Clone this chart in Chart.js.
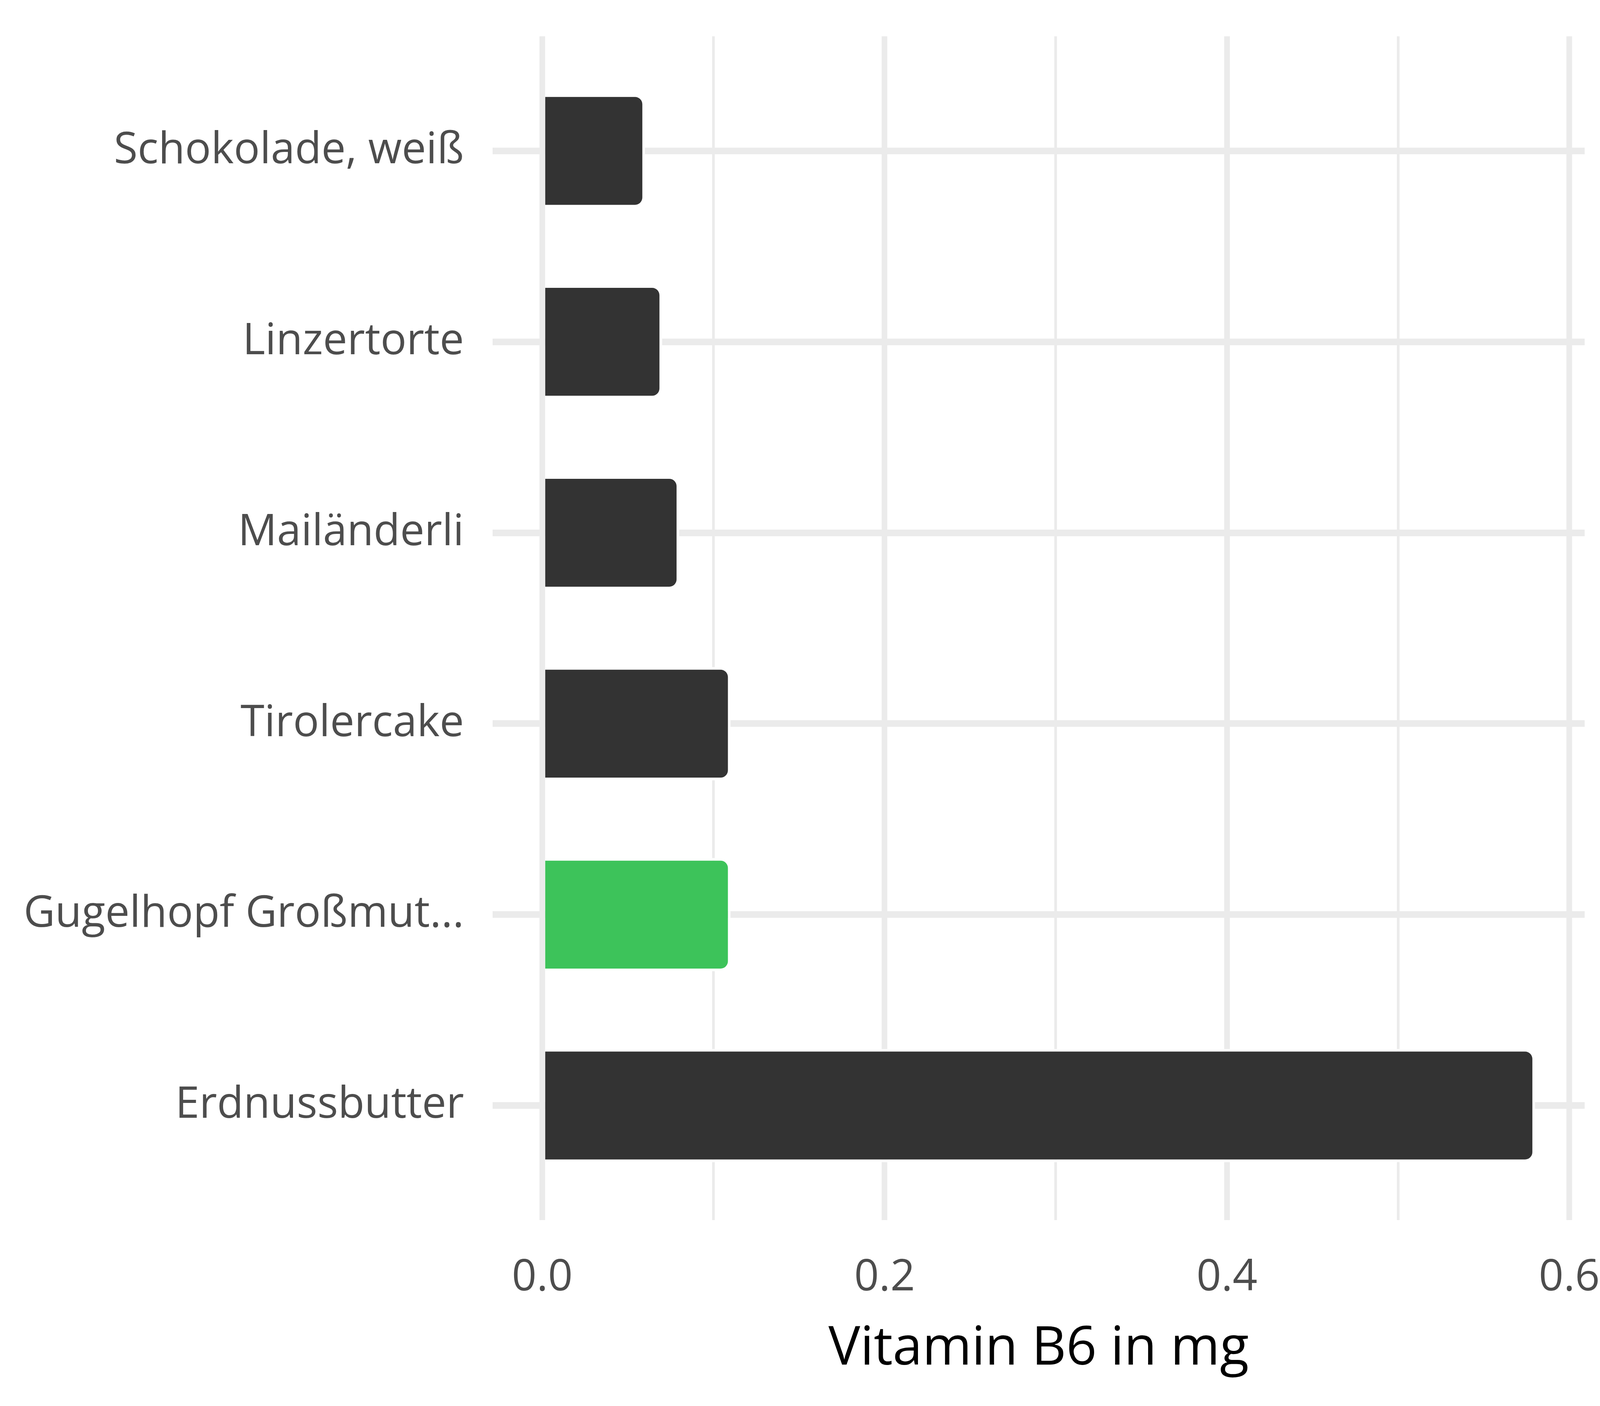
<!DOCTYPE html>
<html>
<head>
<meta charset="utf-8">
<script src="https://cdn.jsdelivr.net/npm/chart.js@4/dist/chart.umd.min.js"></script>
<style>
  html, body { margin: 0; padding: 0; background: #ffffff; overflow: hidden; }
  canvas { display: block; }
</style>
</head>
<body>
<canvas id="grafico"></canvas>
<script>
const lebensmittel = ["Schokolade, weiß", "Linzertorte", "Mailänderli", "Tirolercake", "Gugelhopf Großmut...", "Erdnussbutter"];
const vitaminB6 = [0.06, 0.07, 0.08, 0.11, 0.11, 0.58];
const balkenFarben = ["#333333", "#333333", "#333333", "#333333", "#3dc35a", "#333333"];
const xTicks = [0, 0.1, 0.2, 0.3, 0.4, 0.5, 0.6];
const achsenTitel = "Vitamin B6 in mg";

// layout was measured on a 4800x3600 picture, scale it to the real window
const W = window.innerWidth;
const H = window.innerHeight;
const sx = W / 4800;
const sy = H / 3600;
const sf = Math.min(sx, sy);

const schrift = "'Open Sans', 'Noto Sans', sans-serif";
const gitter = "#ebebeb";
const istMajor = (v) => Math.round(v * 10) % 2 === 0;

const canvas = document.getElementById("grafico");
canvas.width = W;
canvas.height = H;

new Chart(canvas, {
  type: "bar",
  data: {
    datasets: [
      {
        label: achsenTitel,
        data: vitaminB6.map((v, i) => ({ x: v, y: i })),
        backgroundColor: balkenFarben,
        borderColor: "#ffffff",
        borderWidth: 8 * sf,
        borderSkipped: "start",
        borderRadius: 30 * sf,
        categoryPercentage: 1,
        barPercentage: 0.593,
      },
    ],
  },
  options: {
    indexAxis: "y",
    responsive: false,
    animation: false,
    devicePixelRatio: 1,
    layout: { padding: { top: 93 * sy, right: 46 * sx, bottom: 0, left: 0 } },
    plugins: { legend: { display: false }, tooltip: { enabled: false } },
    scales: {
      x: {
        type: "linear",
        min: -0.029,
        max: 0.609,
        afterBuildTicks: (axis) => {
          axis.ticks = xTicks.map((v) => ({ value: v }));
        },
        afterFit: (axis) => {
          axis.height = 476 * sy;
          axis.paddingLeft = 0;
          axis.paddingRight = 0;
        },
        grid: {
          color: gitter,
          lineWidth: (ctx) => (ctx.tick && istMajor(ctx.tick.value) ? 17 * sx : 8 * sx),
          drawTicks: false,
        },
        border: { display: false },
        ticks: {
          autoSkip: false,
          maxRotation: 0,
          padding: 82 * sy,
          color: "#4d4d4d",
          font: { family: schrift, size: 130 * sf },
          callback: (v) => (istMajor(v) ? v.toFixed(1) : ""),
        },
        title: {
          display: true,
          text: achsenTitel,
          color: "#000000",
          font: { family: schrift, size: 160 * sf },
          padding: { top: 0, bottom: 63 * sy },
        },
      },
      y: {
        type: "linear",
        reverse: true,
        offset: false,
        min: -0.6,
        max: 5.6,
        afterBuildTicks: (axis) => {
          axis.ticks = lebensmittel.map((_, i) => ({ value: i }));
        },
        afterFit: (axis) => {
          axis.width = 1478 * sx;
          axis.paddingTop = 0;
          axis.paddingBottom = 0;
        },
        grid: { color: gitter, lineWidth: 17 * sy, drawTicks: false, offset: false },
        border: { display: false },
        ticks: {
          autoSkip: false,
          padding: 86 * sx,
          color: "#4d4d4d",
          font: { family: schrift, size: 130 * sf },
          callback: (v) => lebensmittel[v],
        },
      },
    },
  },
});
</script>
</body>
</html>
